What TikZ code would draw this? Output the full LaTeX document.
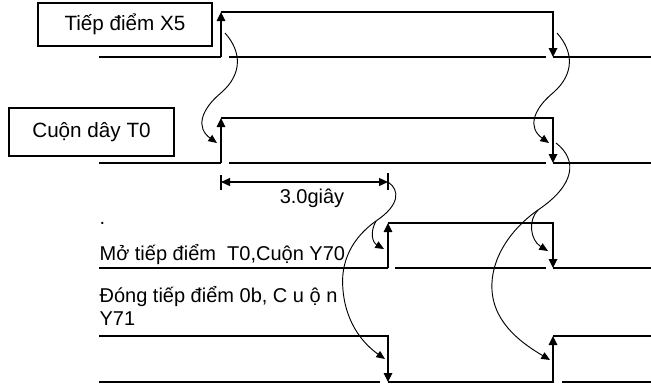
\documentclass[tikz,border=0pt]{standalone}
\usepackage{fontspec}
\setmainfont{Liberation Sans}
\usetikzlibrary{arrows.meta}
\begin{document}
\begin{tikzpicture}[x=0.75pt,y=-0.75pt,line width=0.9pt,
  flank/.style={-{Triangle[length=6.75pt,width=6.5pt]}},
  span/.style={{Triangle[length=6.75pt,width=6pt]}-{Triangle[length=6.75pt,width=6pt]}},
  cause/.style={line width=0.7pt,-{Triangle[length=6.5pt,width=5.5pt]}},
  signame/.style={draw, line width=1pt, inner sep=0pt, font=\fontsize{15.5}{18}\selectfont},
  rowtext/.style={anchor=base west, inner sep=0pt, align=left, font=\fontsize{15}{17.25}\selectfont}]
\useasboundingbox (0,0) rectangle (651,383);

\node[signame, minimum width=130.5pt, minimum height=32.25pt] (x5box) at (125,24.5) {Tiếp điểm X5};
\node[signame, minimum width=123.75pt, minimum height=36pt] (t0box) at (91.5,132) {Cuộn dây T0};
\node[rowtext] (dot) at (99,224) {.};
\node[rowtext] (y70text) at (99,260) {Mở tiếp điểm\ \ T0,Cuộn Y70};
\node[rowtext] (y71text) at (99,325) {Đóng tiếp điểm 0b, C u ộ n\\Y71};
\node[font=\fontsize{15}{17.25}\selectfont] (delay) at (312,198) {3.0giây};

\coordinate (x5a) at (221,57);
\coordinate (x5b) at (221,12);
\coordinate (x5c) at (553,12);
\coordinate (x5d) at (553,57);
\draw (99,57) -- (x5a);
\draw (229,57) -- (546,57);
\draw (x5d) -- (651,57);
\draw[flank] (x5a) -- (x5b);
\draw[flank] (x5b) -- (x5c) -- (x5d);

\coordinate (t0a) at (221,163);
\coordinate (t0b) at (221,118);
\coordinate (t0c) at (553,118);
\coordinate (t0d) at (553,163);
\draw (99,163) -- (t0a);
\draw (229,163) -- (546,163);
\draw (t0d) -- (651,163);
\draw[flank] (t0a) -- (t0b);
\draw[flank] (t0b) -- (t0c) -- (t0d);

\coordinate (y70a) at (388,268);
\coordinate (y70b) at (388,223);
\coordinate (y70c) at (553,223);
\coordinate (y70d) at (553,268);
\draw (99,268) -- (y70a);
\draw (395,268) -- (546,268);
\draw (y70d) -- (651,268);
\draw[flank] (y70a) -- (y70b);
\draw[flank] (y70b) -- (y70c) -- (y70d);

\coordinate (y71a) at (388,336);
\coordinate (y71b) at (388,382);
\coordinate (y71c) at (553,382);
\coordinate (y71d) at (553,336);
\draw (99,382) -- (380,382);
\draw (562,382) -- (651,382);
\draw[flank] (99,336) -- (y71a) -- (y71b);
\draw[flank] (y71b) -- (y71c) -- (y71d);
\draw (y71d) -- (651,336);

\coordinate (dima) at (221,182);
\coordinate (dimb) at (388,182);
\draw (221,175) -- (221,190);
\draw (388,173) -- (388,190);
\draw[span] (dima) -- (dimb);

\coordinate (x5rise) at (225,33);
\coordinate (t0rise) at (217,143);
\coordinate (x5fall) at (557,33);
\coordinate (t0fall) at (549,143);
\coordinate (t0out) at (556,143);
\coordinate (rbranch) at (538,210);
\coordinate (lbranch) at (376,221);
\coordinate (y70rise) at (384,249);
\coordinate (y70fall) at (548,251);
\coordinate (y71fall) at (385,359);
\coordinate (y71rise) at (550,360);

\draw[cause] (x5rise) .. controls (242,52) and (242,74) .. (222,92) .. controls (200,110) and (196,128) .. (t0rise);
\draw[cause] (x5fall) .. controls (574,52) and (574,74) .. (554,92) .. controls (532,110) and (528,128) .. (t0fall);
\draw[cause] (t0out) .. controls (578,160) and (575,185) .. (rbranch) .. controls (512,228) and (490,258) .. (492,290) .. controls (494,325) and (525,345) .. (y71rise);
\draw[cause] (rbranch) .. controls (528,220) and (530,240) .. (y70fall);
\draw[cause] (dimb) .. controls (400,190) and (400,205) .. (lbranch) .. controls (352,238) and (340,262) .. (343,290) .. controls (346,325) and (365,345) .. (y71fall);
\draw[cause] (lbranch) .. controls (370,232) and (372,242) .. (y70rise);
\end{tikzpicture}
\end{document}
